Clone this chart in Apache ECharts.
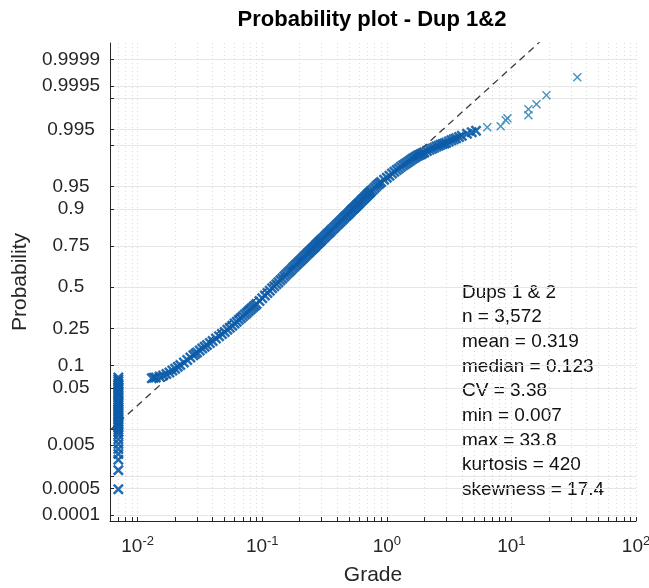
<!DOCTYPE html>
<html>
<head>
<meta charset="utf-8">
<script src="https://cdn.jsdelivr.net/npm/echarts@6/dist/echarts.min.js"></script>
<style>
html,body{margin:0;padding:0;background:#ffffff;}
#chart{width:649px;height:588px;}
</style>
</head>
<body>
<div id="chart"></div>
<script>
// ---------------- data ----------------
const titleText = 'Probability plot - Dup 1&2';
const xAxisName = 'Grade';
const yAxisName = 'Probability';

// x axis: log scale of grade
const xLimits = [0.006, 100];
const xLabelValues = [0.01, 0.1, 1, 10, 100];
const xTickValues = [0.007, 0.008, 0.009, 0.01, 0.02, 0.03, 0.04, 0.05, 0.06, 0.07, 0.08, 0.09,
  0.1, 0.2, 0.3, 0.4, 0.5, 0.6, 0.7, 0.8, 0.9, 1, 2, 3, 4, 5, 6, 7, 8, 9,
  10, 20, 30, 40, 50, 60, 70, 80, 90, 100];

// y axis: normal probability scale
const yLimitsZ = [-3.82, 3.99];
const yTickProbs = [0.0001, 0.0005, 0.001, 0.005, 0.01, 0.05, 0.1, 0.25, 0.5, 0.75, 0.9, 0.95, 0.99, 0.995, 0.999, 0.9995, 0.9999];
const yLabelProbs = [0.0001, 0.0005, 0.005, 0.05, 0.1, 0.25, 0.5, 0.75, 0.9, 0.95, 0.995, 0.9995, 0.9999];

const statsLines = ['Dups 1 & 2', 'n = 3,572', 'mean = 0.319', 'median = 0.123', 'CV = 3.38',
  'min = 0.007', 'max = 33.8', 'kurtosis = 420', 'skewness = 17.4'];

// values tied at the minimum grade (0.007)
const tiedGrade = 0.007;
const tiedProb = [0.07, 0.066, 0.062, 0.058, 0.055, 0.051, 0.048, 0.045, 0.042, 0.039, 0.036, 0.033, 0.031,
  0.029, 0.027, 0.025, 0.023, 0.0215, 0.02, 0.0185, 0.017, 0.0155, 0.014, 0.013, 0.012, 0.011, 0.01, 0.009,
  0.008, 0.0065, 0.0052, 0.0041, 0.0032, 0.0024, 0.0014, 0.00048];

// main body of the distribution (first pass of readings)
const curveGrade = [0.013, 0.014, 0.016, 0.018, 0.02, 0.022, 0.025, 0.028, 0.03, 0.033, 0.036, 0.04, 0.0425,
  0.045, 0.0475, 0.05, 0.055, 0.06, 0.065, 0.07, 0.075, 0.08, 0.085, 0.09, 0.1, 0.11, 0.12, 0.13, 0.14,
  0.15, 0.16, 0.17, 0.18, 0.19, 0.2, 0.21, 0.22, 0.23, 0.24, 0.25, 0.26, 0.27, 0.28, 0.29, 0.3, 0.315,
  0.33, 0.345, 0.36, 0.38, 0.4, 0.42, 0.44, 0.46, 0.48, 0.5, 0.52, 0.54, 0.56, 0.58, 0.6, 0.625, 0.65,
  0.675, 0.7, 0.725, 0.75, 0.8, 0.85, 0.9, 1.0, 1.1, 1.2, 1.3, 1.4, 1.5, 1.6, 1.7, 1.8, 1.9, 2.0, 2.2,
  2.4, 2.6, 2.8, 3.0, 3.3, 3.6, 4.0, 4.4, 4.8, 5.2];
const curveProb = [0.0685, 0.0703, 0.0748, 0.0815, 0.0915, 0.1015, 0.117, 0.133, 0.143, 0.158, 0.172, 0.19, 0.2005,
  0.211, 0.2218, 0.232, 0.254, 0.276, 0.297, 0.318, 0.337, 0.356, 0.374, 0.392, 0.429, 0.462, 0.493, 0.52, 0.545,
  0.569, 0.591, 0.611, 0.631, 0.648, 0.664, 0.679, 0.693, 0.707, 0.719, 0.731, 0.742, 0.753, 0.763, 0.772, 0.781, 0.7926,
  0.8045, 0.8147, 0.8246, 0.8365, 0.847, 0.857, 0.8657, 0.874, 0.881, 0.888, 0.8947, 0.9004, 0.9058, 0.9109, 0.9156, 0.921, 0.9259,
  0.9302, 0.9345, 0.9383, 0.9418, 0.948, 0.9533, 0.9572, 0.9633, 0.9683, 0.9723, 0.9755, 0.978, 0.9801, 0.9819, 0.9833, 0.9844, 0.9853, 0.9862, 0.9877,
  0.9887, 0.9896, 0.9903, 0.9909, 0.9918, 0.9925, 0.9933, 0.9939, 0.9943, 0.9947];

// main body of the distribution (second pass of readings, between the first ones)
const bodyGrade = [0.0135, 0.015, 0.017, 0.019, 0.021, 0.0235, 0.0265, 0.029, 0.0315, 0.0345, 0.038,
  0.0525, 0.0575, 0.0625, 0.0675, 0.0725, 0.0775, 0.0825, 0.0875, 0.095, 0.105, 0.115, 0.125, 0.135, 0.145,
  0.155, 0.165, 0.175, 0.185, 0.195, 0.205, 0.215, 0.225, 0.235, 0.245, 0.255, 0.265, 0.275, 0.285, 0.295,
  0.307, 0.322, 0.337, 0.352, 0.37, 0.39, 0.41, 0.43, 0.45, 0.47, 0.49, 0.51, 0.53, 0.55, 0.57, 0.59,
  0.612, 0.637, 0.662, 0.687, 0.712, 0.737, 0.775, 0.825, 0.875, 0.95, 1.05, 1.15, 1.25, 1.35, 1.45,
  1.55, 1.65, 1.75, 1.85, 1.95, 2.1, 2.3, 2.5, 2.7, 2.9, 3.15, 3.45, 3.8];
const bodyProb = [0.0694, 0.0725, 0.078, 0.0865, 0.0965, 0.109, 0.125, 0.138, 0.1505, 0.165, 0.181,
  0.243, 0.265, 0.2865, 0.3075, 0.3275, 0.3465, 0.365, 0.383, 0.4105, 0.4455, 0.4775, 0.5065, 0.5325, 0.557,
  0.58, 0.601, 0.621, 0.6395, 0.656, 0.6715, 0.686, 0.70, 0.713, 0.725, 0.7365, 0.7475, 0.758, 0.7675, 0.7765,
  0.7868, 0.7986, 0.8096, 0.8197, 0.8306, 0.8418, 0.852, 0.8614, 0.8699, 0.8775, 0.8845, 0.8914, 0.8976, 0.9031, 0.9084, 0.9133,
  0.9183, 0.9235, 0.9281, 0.9324, 0.9364, 0.9401, 0.9449, 0.9507, 0.9553, 0.9603, 0.9658, 0.9703, 0.9739, 0.9768, 0.979,
  0.981, 0.9826, 0.9839, 0.9849, 0.9858, 0.987, 0.9882, 0.9892, 0.99, 0.9906, 0.9914, 0.9922, 0.9929];

// sparse upper tail
const tailGrade = [6.4, 8.2, 9.0, 9.3, 13.7, 13.7, 15.9, 19.1, 33.8];
const tailProb = [0.99553, 0.99574, 0.99682, 0.99712, 0.99752, 0.99818, 0.99861, 0.99915, 0.9997];

// dashed reference line end points
const refGrade = [0.006, 17.0];
const refProb = [0.0097, 0.99997];

// ---------------- scales ----------------
function probit(p) {
  const a = [-3.969683028665376e+01, 2.209460984245205e+02, -2.759285104469687e+02, 1.383577518672690e+02, -3.066479806614716e+01, 2.506628277459239e+00];
  const b = [-5.447609879822406e+01, 1.615858368580409e+02, -1.556989798598866e+02, 6.680131188771972e+01, -1.328068155288572e+01];
  const c = [-7.784894002430293e-03, -3.223964580411365e-01, -2.400758277161838e+00, -2.549732539343734e+00, 4.374664141464968e+00, 2.938163982698783e+00];
  const d = [7.784695709041462e-03, 3.224671290700398e-01, 2.445134137142996e+00, 3.754408661907416e+00];
  const pl = 0.02425, ph = 1 - pl;
  let q, r;
  if (p < pl) {
    q = Math.sqrt(-2 * Math.log(p));
    return (((((c[0] * q + c[1]) * q + c[2]) * q + c[3]) * q + c[4]) * q + c[5]) / ((((d[0] * q + d[1]) * q + d[2]) * q + d[3]) * q + 1);
  }
  if (p <= ph) {
    q = p - 0.5; r = q * q;
    return (((((a[0] * r + a[1]) * r + a[2]) * r + a[3]) * r + a[4]) * r + a[5]) * q / (((((b[0] * r + b[1]) * r + b[2]) * r + b[3]) * r + b[4]) * r + 1);
  }
  q = Math.sqrt(-2 * Math.log(1 - p));
  return -(((((c[0] * q + c[1]) * q + c[2]) * q + c[3]) * q + c[4]) * q + c[5]) / ((((d[0] * q + d[1]) * q + d[2]) * q + d[3]) * q + 1);
}
const lg = Math.log10;

const densePoints = [];
tiedProb.forEach(p => densePoints.push([lg(tiedGrade), probit(p)]));
curveGrade.forEach((g, i) => densePoints.push([lg(g), probit(curveProb[i])]));
bodyGrade.forEach((g, i) => densePoints.push([lg(g), probit(bodyProb[i])]));
const tailPoints = tailGrade.map((g, i) => [lg(g), probit(tailProb[i])]);
const refLine = refGrade.map((g, i) => [lg(g), probit(refProb[i])]);

const FONT = '"Liberation Sans", Arial, Helvetica, sans-serif';
const TXT = '#262626';
const crossPath = 'path://M0,1.6L1.6,0L5,3.4L8.4,0L10,1.6L6.6,5L10,8.4L8.4,10L5,6.6L1.6,10L0,8.4L3.4,5Z';
const thinCross = 'path://M0,1.1L1.1,0L5,3.9L8.9,0L10,1.1L6.1,5L10,8.9L8.9,10L5,6.1L1.1,10L0,8.9L3.9,5Z';

const yLabelZ = yLabelProbs.map(probit);

const chart = echarts.init(document.getElementById('chart'), null, {renderer: 'canvas'});
chart.setOption({
  animation: false,
  backgroundColor: '#ffffff',
  grid: {left: 110, right: 13, top: 43, bottom: 67, containLabel: false, outerBoundsMode: 'none'},
  xAxis: {
    type: 'value',
    min: lg(xLimits[0]),
    max: lg(xLimits[1]),
    name: xAxisName,
    nameLocation: 'middle',
    nameGap: 44,
    nameTextStyle: {fontSize: 21, fontFamily: FONT, color: TXT},
    axisLine: {show: true, onZero: false, lineStyle: {color: TXT, width: 1}},
    axisTick: {show: true, inside: true, length: 4, customValues: xTickValues.map(lg), lineStyle: {color: TXT}},
    axisLabel: {
      customValues: xLabelValues.map(lg),
      margin: 14,
      formatter: v => '{b|10}{s|' + Math.round(v) + '}',
      rich: {
        b: {fontSize: 19, fontFamily: FONT, color: TXT, lineHeight: 24},
        s: {fontSize: 13, fontFamily: FONT, color: TXT, lineHeight: 18, verticalAlign: 'top'}
      }
    },
    splitLine: {show: true, lineStyle: {color: '#d9d9d9', type: [1, 3], width: 1}}
  },
  yAxis: {
    type: 'value',
    min: yLimitsZ[0],
    max: yLimitsZ[1],
    name: yAxisName,
    nameLocation: 'middle',
    nameGap: 73,
    nameTextStyle: {fontSize: 21, fontFamily: FONT, color: TXT},
    axisLine: {show: true, onZero: false, lineStyle: {color: TXT, width: 1}},
    axisTick: {show: true, inside: true, length: 4, customValues: yTickProbs.map(probit), lineStyle: {color: TXT}},
    axisLabel: {
      customValues: yLabelZ,
      margin: 39,
      align: 'center',
      fontSize: 19,
      fontFamily: FONT,
      color: TXT,
      formatter: v => {
        let best = 0;
        for (let i = 1; i < yLabelZ.length; i++) if (Math.abs(yLabelZ[i] - v) < Math.abs(yLabelZ[best] - v)) best = i;
        return String(yLabelProbs[best]);
      }
    },
    splitLine: {show: true, lineStyle: {color: '#e6e6e6', width: 1}}
  },
  series: [
    {
      type: 'line',
      data: refLine,
      showSymbol: false,
      symbol: 'none',
      clip: true,
      z: 2,
      lineStyle: {color: '#3a3a3a', width: 1.3, type: [7, 5]},
      silent: true
    },
    {
      type: 'scatter',
      data: densePoints,
      symbol: crossPath,
      symbolSize: 11,
      z: 3,
      itemStyle: {color: '#0c5ca8', opacity: 0.9},
      silent: true
    },
    {
      type: 'scatter',
      data: tailPoints,
      symbol: thinCross,
      symbolSize: 9,
      z: 3,
      itemStyle: {color: '#3d8cb8', opacity: 0.95},
      silent: true
    }
  ],
  graphic: [
    {
      type: 'text', x: 372, y: 20,
      style: {text: titleText, font: 'bold 22px ' + FONT, fill: '#000', textAlign: 'center', textVerticalAlign: 'middle', align: 'center', verticalAlign: 'middle'}
    },
    {
      type: 'text', x: 462, y: 280,
      style: {text: statsLines.join('\n'), font: '19px ' + FONT, fill: '#111', lineHeight: 24.7, textAlign: 'left', textVerticalAlign: 'top', align: 'left', verticalAlign: 'top'}
    }
  ]
});
</script>
</body>
</html>
